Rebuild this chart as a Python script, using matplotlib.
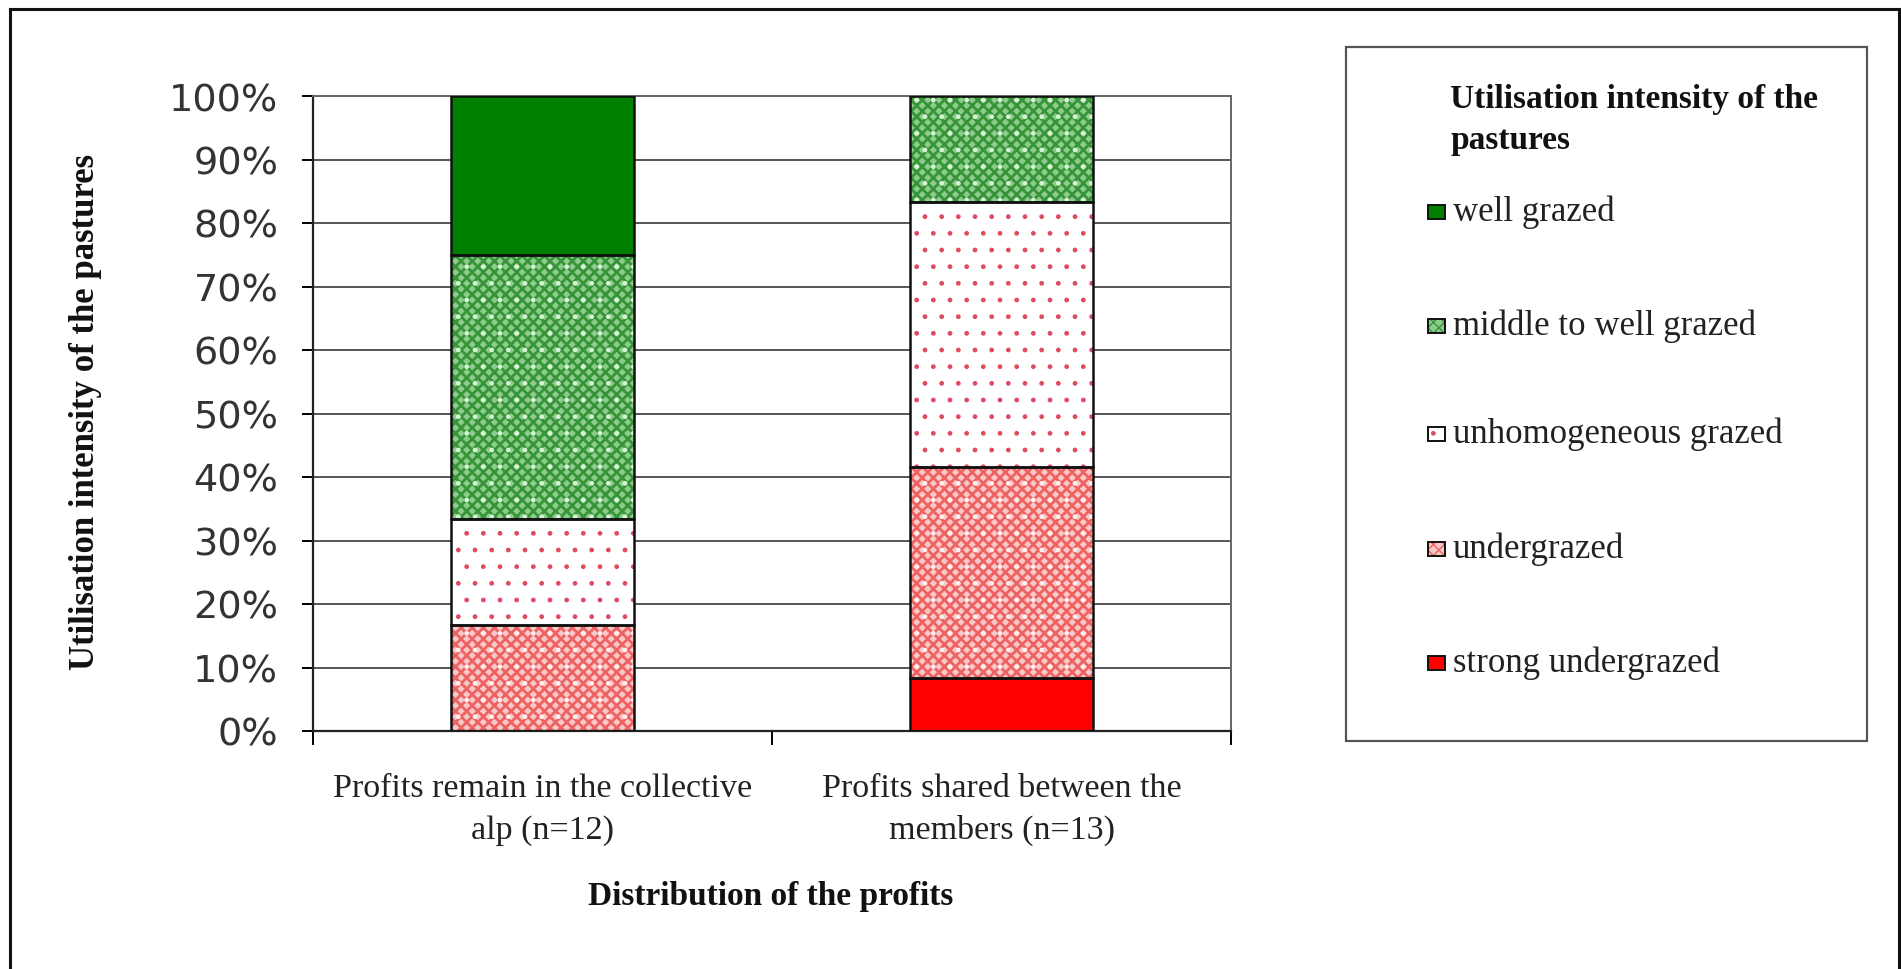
import numpy as np
import matplotlib
matplotlib.use("Agg")
import matplotlib.pyplot as plt
from matplotlib.patches import Rectangle
from matplotlib.lines import Line2D

# dati: percentuali per gruppo (somma = 100)
categorie = ["Profits remain in the collective\nalp (n=12)",
             "Profits shared between the\nmembers (n=13)"]
serie = ["strong undergrazed", "undergrazed", "unhomogeneous grazed",
         "middle to well grazed", "well grazed"]
strong_under = [0.0, 8.3]
under = [16.7, 33.3]
unhomog = [16.7, 41.7]
middle_well = [41.6, 16.7]
well = [25.0, 0.0]
valori = [strong_under, under, unhomog, middle_well, well]

titolo_legenda = "Utilisation intensity of the\npastures"
ylabel = "Utilisation intensity of the pastures"
xlabel = "Distribution of the profits"

# stile di ogni serie: (fondo, tratteggio, colore tratteggio, spessore, puntini chiari)
stili = [
    ("#ff0000", None, "#ff0000", 1.0, None),
    ("#f9c8c8", "xxx", "#ee6262", 2.0, "#fff0f0"),
    ("#ffffff", ".", "#e04a62", 1.0, None),
    ("#8ccc8c", "xxx", "#389438", 2.0, "#d6f5d6"),
    ("#008000", None, "#008000", 1.0, None),
]

serif = "Liberation Serif"

fig = plt.figure(figsize=(19.01, 9.70), dpi=100)
ax = fig.add_axes([313/1901, 1 - 732/970, 918/1901, 635/970])

x = np.arange(len(categorie))
w = 0.4
base = np.zeros(len(categorie))
for nome, v, (fc, hatch, hc, hlw, dots) in zip(serie, valori, stili):
    v = np.array(v)
    m = v > 0
    plt.rcParams["hatch.linewidth"] = hlw
    ax.bar(x[m], v[m], w, bottom=base[m], color=fc, hatch=hatch,
           edgecolor=hc, linewidth=0, zorder=2)
    if dots:
        plt.rcParams["hatch.linewidth"] = 1.0
        ax.bar(x[m], v[m], w, bottom=base[m], fill=False, hatch=".",
               edgecolor=dots, linewidth=0, zorder=2.5)
    ax.bar(x[m], v[m], w, bottom=base[m], fill=False,
           edgecolor="#111111", linewidth=1.8, zorder=3)
    base = base + v

ax.set_xlim(-0.5, 1.5)
ax.set_ylim(0, 100)
ax.set_yticks(np.arange(0, 101, 10))
ax.set_yticklabels([f"{t}%" for t in range(0, 101, 10)],
                   fontsize=27.5, color="#333333", family="DejaVu Sans")
ax.tick_params(axis="y", direction="out", length=8, width=1.4, pad=17)
ax.grid(axis="y", color="#555555", linewidth=1.4, zorder=0)
ax.set_axisbelow(True)

ax.set_xticks(x)
ax.set_xticklabels(categorie, fontsize=24.5, family=serif, color="#222222",
                   linespacing=1.45)
ax.tick_params(axis="x", which="major", length=0, pad=30)
ax.set_xticks([-0.5, 0.5, 1.5], minor=True)
ax.tick_params(axis="x", which="minor", direction="out", length=10, width=1.4)

for s in ["left", "bottom"]:
    ax.spines[s].set_color("#222222")
    ax.spines[s].set_linewidth(1.6)
for s in ["right", "top"]:
    ax.spines[s].set_color("#666666")
    ax.spines[s].set_linewidth(1.4)

fig.text(85/1901, 1 - 412/970, ylabel, rotation=90, ha="center", va="center",
         fontsize=25, fontweight="bold", family=serif, color="#111111")
fig.text(771/1901, 1 - 897/970, xlabel, ha="center", va="center",
         fontsize=24, fontweight="bold", family=serif, color="#111111")

# legenda in un riquadro a destra
fig.add_artist(Rectangle((1346/1901, 1 - 742/970), 521/1901, 694/970,
                         transform=fig.transFigure, fill=False,
                         edgecolor="#555555", linewidth=1.6))
fig.text(1450/1901, 1 - 84/970, titolo_legenda, ha="left", va="top",
         fontsize=24, fontweight="bold", family=serif, color="#111111",
         linespacing=1.4)
y_voci = [212, 326, 434, 549, 663]
for yv, nome, (fc, hatch, hc, hlw, dots) in zip(y_voci, serie[::-1], stili[::-1]):
    plt.rcParams["hatch.linewidth"] = 1.0
    fig.add_artist(Rectangle((1428/1901, 1 - (yv + 8)/970), 17/1901, 14/970,
                             transform=fig.transFigure, facecolor=fc,
                             hatch=hatch, edgecolor=hc, linewidth=0))
    fig.add_artist(Rectangle((1428/1901, 1 - (yv + 8)/970), 17/1901, 14/970,
                             transform=fig.transFigure, fill=False,
                             edgecolor="#111111", linewidth=1.4))
    fig.text(1453/1901, 1 - yv/970, nome, ha="left", va="center",
             fontsize=25, family=serif, color="#222222")

# cornice esterna (aperta in basso)
for xs, ys in [([10, 10], [0, 960]), ([10, 1899], [960, 960]),
               ([1899, 1899], [960, 0])]:
    fig.add_artist(Line2D(np.array(xs)/1901, np.array(ys)/970,
                          transform=fig.transFigure, color="#111111",
                          linewidth=2.2))

fig.savefig("out.png", dpi=100, facecolor="white")
